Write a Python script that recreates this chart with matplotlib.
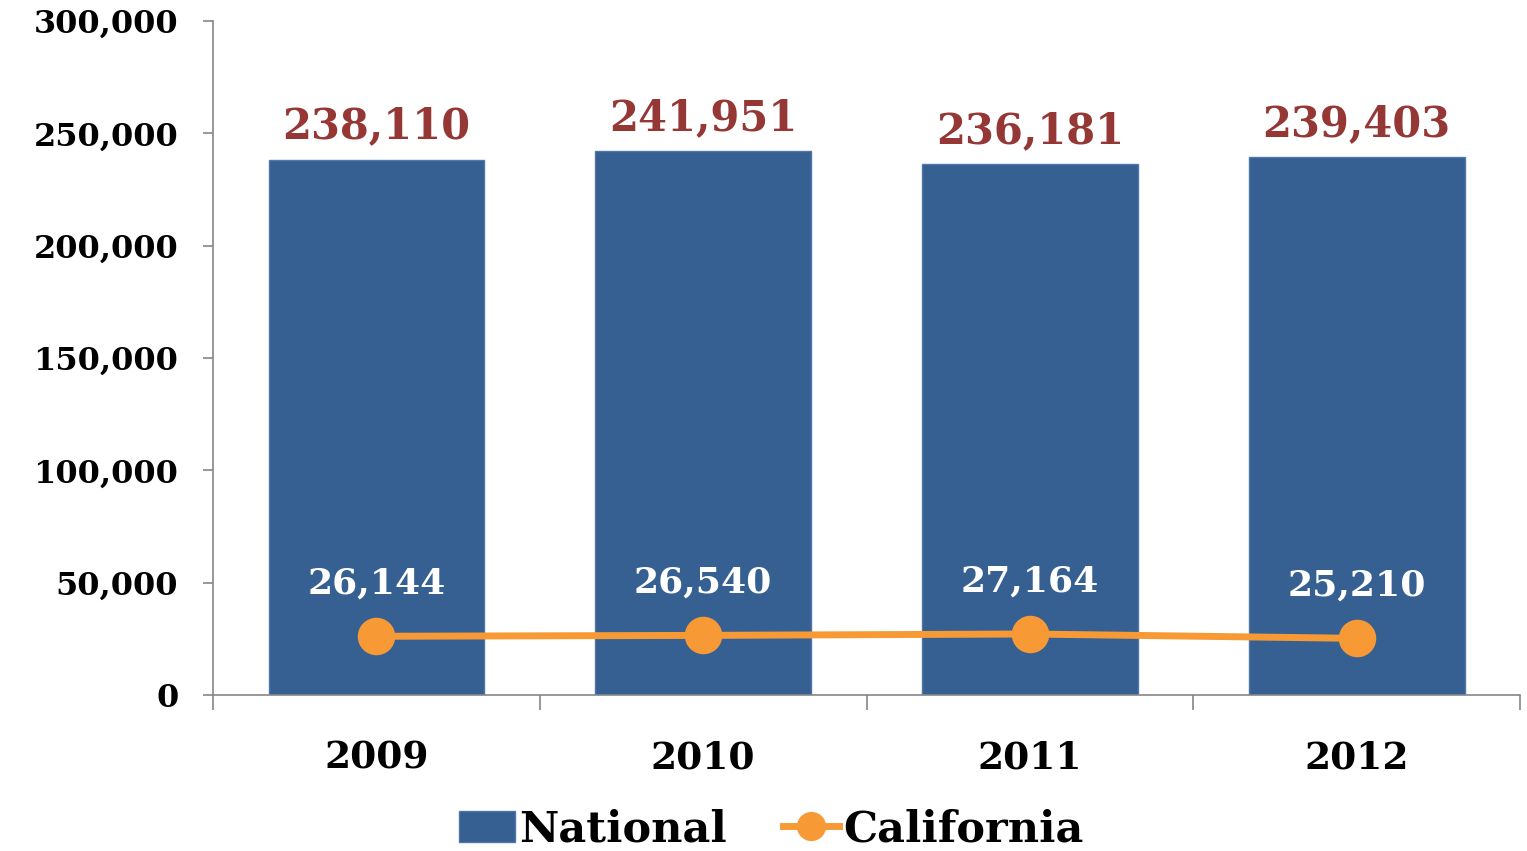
import matplotlib
matplotlib.use("Agg")
import matplotlib.pyplot as plt
import numpy as np

years = ["2009", "2010", "2011", "2012"]
national = [238110, 241951, 236181, 239403]
california = [26144, 26540, 27164, 25210]

bar_color = "#376092"
line_color = "#F79A36"
red = "#953735"
axis_gray = "#868686"

plt.rcParams['font.family'] = ['DejaVu Serif']
plt.rcParams['font.weight'] = 'bold'

fig = plt.figure(figsize=(15.27, 8.51), dpi=100)
ax = fig.add_axes([0.1395, 0.1833, 0.856, 0.792])

x = np.arange(len(years))
bars = ax.bar(x, national, width=0.66, color=bar_color, edgecolor="#4F77AA", linewidth=1, label="National", zorder=2)
line, = ax.plot(x, california, color=line_color, lw=5, marker="o", markersize=26, label="California", zorder=3)

# подписи значений
for xi, v in zip(x, national):
    ax.annotate(f"{v:,}", (xi, v), xytext=(0, 9), textcoords="offset points",
                ha="center", va="bottom", fontsize=30, color=red, fontweight="bold")
for xi, v in zip(x, california):
    ax.annotate(f"{v:,}", (xi, v), xytext=(0, 38), textcoords="offset points",
                ha="center", va="center", fontsize=26, color="white", fontweight="bold")

ax.set_xlim(-0.5, 3.5)
ax.set_ylim(0, 300000)
ax.set_yticks(np.arange(0, 300001, 50000))
ax.yaxis.set_major_formatter(matplotlib.ticker.FuncFormatter(lambda v, p: f"{int(v):,}"))
ax.set_xticks(x)
ax.set_xticklabels(years)
ax.set_xticks(np.arange(-0.5, 3.6, 1), minor=True)
ax.tick_params(axis="x", which="major", length=0, pad=32, labelsize=27)
ax.tick_params(axis="x", which="minor", length=11, width=1.2, color=axis_gray)
ax.tick_params(axis="y", length=7, width=1.2, color=axis_gray, labelsize=23, pad=18)

for s in ["top", "right"]:
    ax.spines[s].set_visible(False)
for s in ["left", "bottom"]:
    ax.spines[s].set_color(axis_gray)
    ax.spines[s].set_linewidth(1.2)

leg = fig.legend([bars, line], ["National", "California"], loc="lower center",
                 bbox_to_anchor=(0.505, -0.045), ncol=2, frameon=False,
                 handlelength=1.3, handletextpad=0.1, columnspacing=1.3,
                 prop={"size": 31, "weight": "bold"})
leg.legend_handles[1].set_markersize(20)

fig.savefig("out.png", dpi=100)
